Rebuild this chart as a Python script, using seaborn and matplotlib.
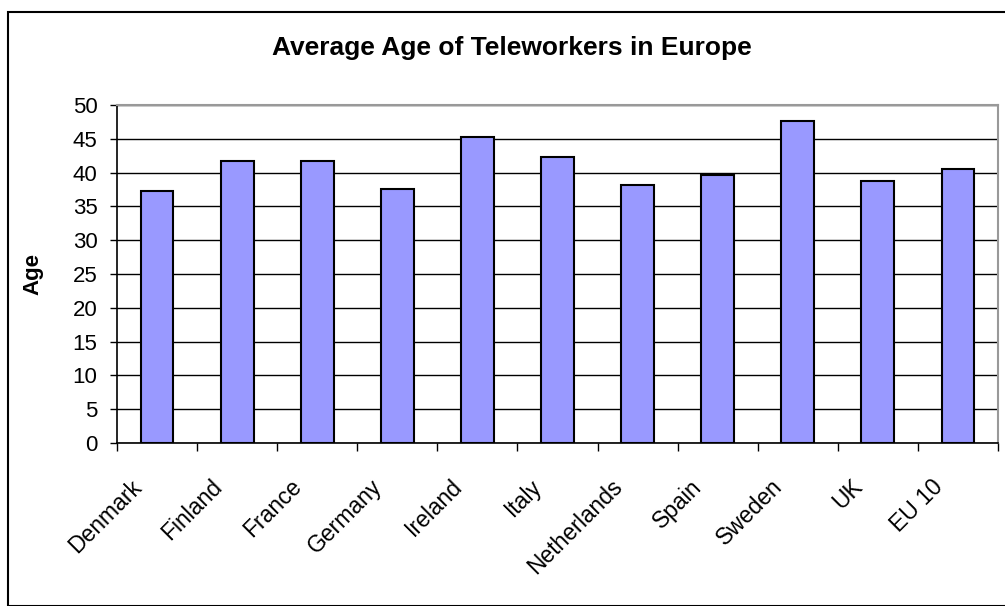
import matplotlib
matplotlib.use("Agg")
import matplotlib.pyplot as plt
import matplotlib.transforms as mtransforms
import seaborn as sns
import pandas as pd
import numpy as np
from matplotlib.patches import Rectangle

countries = ["Denmark", "Finland", "France", "Germany", "Ireland", "Italy",
             "Netherlands", "Spain", "Sweden", "UK", "EU 10"]
ages = [37.3, 41.7, 41.7, 37.6, 45.2, 42.3, 38.2, 39.6, 47.6, 38.8, 40.5]
yticks = [0, 5, 10, 15, 20, 25, 30, 35, 40, 45, 50]

sns.set_style("white")
plt.rcParams['font.family'] = ['Liberation Sans', 'DejaVu Sans']
plt.rcParams['text.color'] = 'black'
plt.rcParams['axes.labelcolor'] = 'black'
plt.rcParams['xtick.color'] = 'black'
plt.rcParams['ytick.color'] = 'black'

df = pd.DataFrame({"Country": countries, "Age": ages})

fig = plt.figure(figsize=(10.05, 6.06), dpi=100)
ax = fig.add_axes([117/1005, 1-443/606, (998-117)/1005, (443-105)/606])

sns.barplot(data=df, x="Country", y="Age", color="#9999FF", edgecolor="black",
            linewidth=1.5, width=0.41, saturation=1, ax=ax, zorder=3)

ax.set_ylim(0, 50)
ax.set_xlim(-0.5, len(countries) - 0.5)
ax.set_yticks(yticks)
ax.set_yticklabels([str(t) for t in yticks], fontsize=16)
ax.yaxis.grid(True, color="black", linewidth=1)
ax.set_axisbelow(True)

ax.set_xticks(range(len(countries)))
ax.set_xticklabels(countries, rotation=45, ha="right", va="center",
                   rotation_mode="anchor", fontsize=16.5)
ax.set_xticks(np.arange(-0.5, len(countries)), minor=True)
ax.tick_params(axis="x", which="major", length=0, pad=29)
ax.tick_params(axis="x", which="minor", length=6, width=1, color="black", direction="out", bottom=True)
ax.tick_params(axis="y", length=5, width=1, color="black", direction="out", left=True, pad=9)
offset = mtransforms.ScaledTranslation(-0.19, 0, fig.dpi_scale_trans)
for lab in ax.get_xticklabels():
    lab.set_transform(lab.get_transform() + offset)

ax.set_xlabel("")
ax.set_ylabel("Age", fontsize=16, fontweight="bold")
ax.yaxis.set_label_coords((43 - 117) / 881, 0.5)

for s in ["left", "bottom"]:
    ax.spines[s].set_color("black")
    ax.spines[s].set_linewidth(1.2)
for s in ["top", "right"]:
    ax.spines[s].set_color("#999999")
    ax.spines[s].set_linewidth(1.5)

fig.text(512/1005, 1 - 48/606, "Average Age of Teleworkers in Europe",
         ha="center", va="center", fontsize=19, fontweight="bold")

fig.patches.append(Rectangle((8/1005, 0), 1 - 8/1005 + 0.01, 1 - 12/606,
                             transform=fig.transFigure, fill=False,
                             edgecolor="black", linewidth=1.5, zorder=10))

fig.savefig("out.png", dpi=100)
